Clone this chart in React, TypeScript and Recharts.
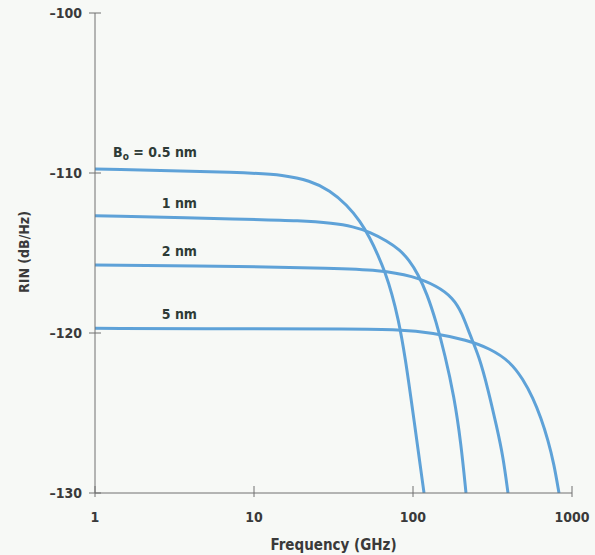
import React from "react";
import { LineChart, Line, XAxis, YAxis, ReferenceDot, Label } from "recharts";

// Frequency (GHz) / RIN (dB/Hz) points
const curve05 = [
  { f: 1, v: -109.75 }, { f: 9.44, v: -109.97 }, { f: 15.22, v: -110.13 }, { f: 22.5, v: -110.47 },
  { f: 30.06, v: -111.09 }, { f: 38.46, v: -112.0 }, { f: 46.42, v: -113.0 }, { f: 53.65, v: -114.06 },
  { f: 60.26, v: -115.13 }, { f: 66.68, v: -116.19 }, { f: 73.79, v: -117.56 }, { f: 80.5, v: -119.06 },
  { f: 89.06, v: -121.38 }, { f: 101.5, v: -125.44 }, { f: 117.3, v: -130 },
];
const curve1 = [
  { f: 1, v: -112.67 }, { f: 9.44, v: -112.89 }, { f: 19.47, v: -112.98 }, { f: 31.4, v: -113.14 },
  { f: 41.94, v: -113.34 }, { f: 53.65, v: -113.69 }, { f: 68.63, v: -114.25 }, { f: 82.83, v: -114.81 },
  { f: 94.36, v: -115.44 }, { f: 107.5, v: -116.31 }, { f: 122.5, v: -117.56 }, { f: 139.5, v: -119.25 },
  { f: 159.0, v: -121.38 }, { f: 181.1, v: -123.94 }, { f: 200.4, v: -126.88 }, { f: 215.4, v: -130 },
];
const curve2 = [
  { f: 1, v: -115.75 }, { f: 9.44, v: -115.84 }, { f: 30.06, v: -115.95 }, { f: 62.0, v: -116.06 },
  { f: 100, v: -116.44 }, { f: 141.6, v: -117.06 }, { f: 178.5, v: -117.81 }, { f: 203.4, v: -118.75 },
  { f: 228.3, v: -120.13 }, { f: 260.1, v: -121.44 }, { f: 296.3, v: -123.5 }, { f: 337.5, v: -125.94 },
  { f: 368.1, v: -127.69 }, { f: 395.8, v: -130 },
];
const curve5 = [
  { f: 1, v: -119.71 }, { f: 9.44, v: -119.74 }, { f: 40.16, v: -119.75 }, { f: 82.83, v: -119.78 },
  { f: 133.6, v: -119.99 }, { f: 218.6, v: -120.44 }, { f: 305.0, v: -120.97 }, { f: 407.5, v: -121.78 },
  { f: 491.8, v: -122.88 }, { f: 568.5, v: -124.06 }, { f: 638.3, v: -125.31 }, { f: 706.6, v: -126.69 },
  { f: 770.5, v: -128.19 }, { f: 828.3, v: -130 },
];

const xTicks = [1, 10, 100, 1000];
const yTicks = [-130, -120, -110, -100];

// curve labels, right-aligned at the anchor frequency, baseline at the given RIN
const curveLabels = [
  { text: "= 0.5 nm", sub: true, f: 4.38, v: -109.0 },
  { text: "1 nm", sub: false, f: 4.38, v: -112.2 },
  { text: "2 nm", sub: false, f: 4.38, v: -115.2 },
  { text: "5 nm", sub: false, f: 4.38, v: -119.1 },
];

const FONT = "'Liberation Sans Narrow', 'DejaVu Sans Condensed', 'Roboto Condensed', sans-serif";
const AXIS = "#707070";
const TXT = "#3a3a3a";
const BLUE = "#5ea2d8";

const YTick = (p: any) => {
  const { x, y, payload } = p;
  return (
    <g>
      <line x1={x - 6} x2={x + 6} y1={y} y2={y} stroke={AXIS} strokeWidth={1} />
      <text x={x - 13} y={y + 5} textAnchor="end" fontFamily={FONT} fontSize={14} fontWeight="bold" fill={TXT}>
        {String(payload.value).replace("-", "–")}
      </text>
    </g>
  );
};

const XTick = (p: any) => {
  const { x, y, payload } = p;
  return (
    <g>
      <line x1={x} x2={x} y1={y - 7} y2={y + 4} stroke={AXIS} strokeWidth={1} />
      <text x={x} y={y + 29} textAnchor="middle" fontFamily={FONT} fontSize={14} fontWeight="bold" fill={TXT}>
        {payload.value}
      </text>
    </g>
  );
};

const CurveLabel = (item: { text: string; sub: boolean }) => (props: any) => {
  const vb = props.viewBox || {};
  return (
    <text x={vb.x} y={vb.y} textAnchor="end" fontFamily={FONT} fontSize={14} fontWeight="bold" fill="#2e3b36">
      {item.sub ? (
        <>
          <tspan>B</tspan>
          <tspan dy={3} fontSize={10}>o</tspan>
          <tspan dy={-3}>{" " + item.text}</tspan>
        </>
      ) : (
        item.text
      )}
    </text>
  );
};

export default function App() {
  return (
    <div style={{ position: "absolute", left: 0, top: 0, width: 595, height: 555, background: "#f7f9f6" }}>
      <LineChart width={595} height={555} margin={{ top: 13, right: 23, bottom: 0, left: 0 }}>
        <XAxis
          type="number"
          dataKey="f"
          scale="log"
          domain={[1, 1000]}
          ticks={xTicks}
          allowDataOverflow
          height={62}
          stroke={AXIS}
          tickLine={false}
          tickSize={0}
          tickMargin={0}
          tick={<XTick />}
          interval={0}
        >
          <Label
            content={(p: any) => {
              const vb = p.viewBox;
              return (
                <text x={vb.x + vb.width / 2} y={vb.y + 57} textAnchor="middle" fontFamily={FONT} fontSize={15} fontWeight="bold" fill={TXT}>
                  Frequency (GHz)
                </text>
              );
            }}
          />
        </XAxis>
        <YAxis
          type="number"
          dataKey="v"
          domain={[-130, -100]}
          ticks={yTicks}
          allowDataOverflow
          width={95}
          stroke={AXIS}
          tickLine={false}
          tickSize={0}
          tickMargin={0}
          tick={<YTick />}
          interval={0}
        >
          <Label
            content={(p: any) => {
              const vb = p.viewBox;
              const cx = 24;
              const cy = vb.y + vb.height / 2 - 1;
              return (
                <text x={cx} y={cy} transform={`rotate(-90 ${cx} ${cy})`} textAnchor="middle" dominantBaseline="central" fontFamily={FONT} fontSize={14} fontWeight="bold" fill={TXT}>
                  RIN (dB/Hz)
                </text>
              );
            }}
          />
        </YAxis>
        <Line data={curve05} dataKey="v" type="basis" stroke={BLUE} strokeWidth={3} dot={false} isAnimationActive={false} />
        <Line data={curve1} dataKey="v" type="basis" stroke={BLUE} strokeWidth={3} dot={false} isAnimationActive={false} />
        <Line data={curve2} dataKey="v" type="basis" stroke={BLUE} strokeWidth={3} dot={false} isAnimationActive={false} />
        <Line data={curve5} dataKey="v" type="basis" stroke={BLUE} strokeWidth={3} dot={false} isAnimationActive={false} />
        {curveLabels.map((c, i) => (
          <ReferenceDot key={i} x={c.f} y={c.v} r={0} stroke="none" fill="none" label={CurveLabel(c)} />
        ))}
      </LineChart>
    </div>
  );
}
